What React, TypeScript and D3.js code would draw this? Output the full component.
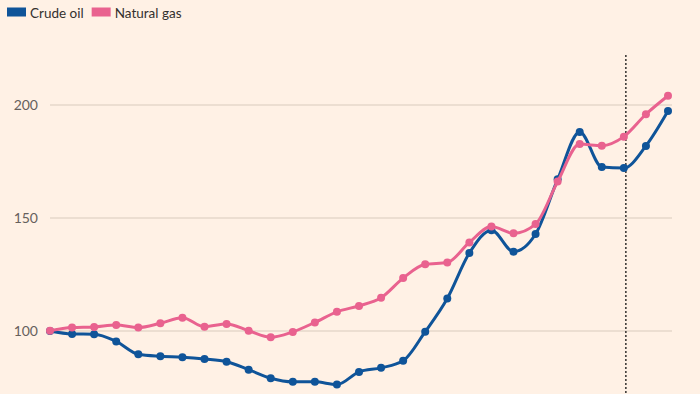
import React, { useEffect, useRef } from 'react';
import * as d3 from 'd3';

// Index values (start = 100)
const crudeOil = [
  100, 98.7, 98.6, 95.4, 89.7, 88.8, 88.4, 87.6, 86.4, 82.9,
  79.1, 77.5, 77.5, 76.3, 81.9, 83.7, 86.8, 99.7, 114.4, 134.5,
  144.6, 135.1, 142.9, 167.1, 188.1, 172.6, 172.1, 181.9, 197.3,
];
const naturalGas = [
  100.1, 101.5, 101.8, 102.7, 101.5, 103.4, 105.9, 101.9, 103.1, 100.1,
  97.2, 99.6, 103.8, 108.5, 111.1, 114.7, 123.4, 129.5, 130.3, 139.2,
  146.2, 143.2, 147.3, 166.1, 182.7, 182, 186, 195.9, 204.1,
];
const yTicks = [100, 150, 200];
const markerIndex = 26;

const seriesList = [
  { name: 'Crude oil', values: crudeOil, color: '#0f5499' },
  { name: 'Natural gas', values: naturalGas, color: '#e9628f' },
];

const App = () => {
  const svgRef = useRef<SVGSVGElement>(null);

  useEffect(() => {
    document.body.style.margin = '0';
    const width = 700;
    const height = 394;

    const svg = d3.select(svgRef.current);
    svg.selectAll('*').remove();
    svg.attr('width', width).attr('height', height);

    svg.append('rect')
      .attr('width', width)
      .attr('height', height)
      .attr('fill', '#fff1e5');

    const x = d3.scaleLinear()
      .domain([0, crudeOil.length - 1])
      .range([50, 668]);

    const y = d3.scaleLinear()
      .domain([100, 200])
      .range([331, 105]);

    // Gridlines + labels
    const grid = svg.append('g');
    grid.selectAll('line')
      .data(yTicks)
      .enter()
      .append('line')
      .attr('x1', 50)
      .attr('x2', 672)
      .attr('y1', d => y(d))
      .attr('y2', d => y(d))
      .attr('stroke', '#d9cbbd')
      .attr('stroke-width', 1);

    grid.selectAll('text')
      .data(yTicks)
      .enter()
      .append('text')
      .attr('x', 38)
      .attr('y', d => y(d))
      .attr('dy', '0.35em')
      .attr('text-anchor', 'end')
      .attr('font-family', 'Lato, sans-serif')
      .attr('font-size', 14)
      .attr('fill', '#66605c')
      .text(d => d);

    // Vertical dotted marker
    svg.append('line')
      .attr('x1', x(markerIndex) + 2)
      .attr('x2', x(markerIndex) + 2)
      .attr('y1', 55)
      .attr('y2', height)
      .attr('stroke', '#33302e')
      .attr('stroke-width', 1.5)
      .attr('stroke-dasharray', '2,2');

    const line = d3.line<number>()
      .x((_, i) => x(i))
      .y(d => y(d))
      .curve(d3.curveMonotoneX);

    // Draw gas first so oil sits on top on the left, then gas over oil
    [seriesList[0], seriesList[1]].forEach(s => {
      const g = svg.append('g');
      g.append('path')
        .datum(s.values)
        .attr('fill', 'none')
        .attr('stroke', s.color)
        .attr('stroke-width', 3)
        .attr('stroke-linejoin', 'round')
        .attr('d', line);
      g.selectAll('circle')
        .data(s.values)
        .enter()
        .append('circle')
        .attr('cx', (_, i) => x(i))
        .attr('cy', d => y(d))
        .attr('r', 4)
        .attr('fill', s.color);
    });

    // Legend
    const legend = svg.append('g').attr('font-family', 'Lato, sans-serif');
    let lx = 7;
    seriesList.forEach(s => {
      legend.append('rect')
        .attr('x', lx)
        .attr('y', 7.5)
        .attr('width', 19)
        .attr('height', 9)
        .attr('fill', s.color);
      const t = legend.append('text')
        .attr('x', lx + 23)
        .attr('y', 18)
        .attr('font-size', 13.5)
        .attr('fill', '#33302e')
        .text(s.name);
      const w = (t.node() as SVGTextElement).getComputedTextLength();
      lx += 23 + w + 8;
    });
  }, []);

  return <svg ref={svgRef} style={{ display: 'block' }}></svg>;
};

export default App;
